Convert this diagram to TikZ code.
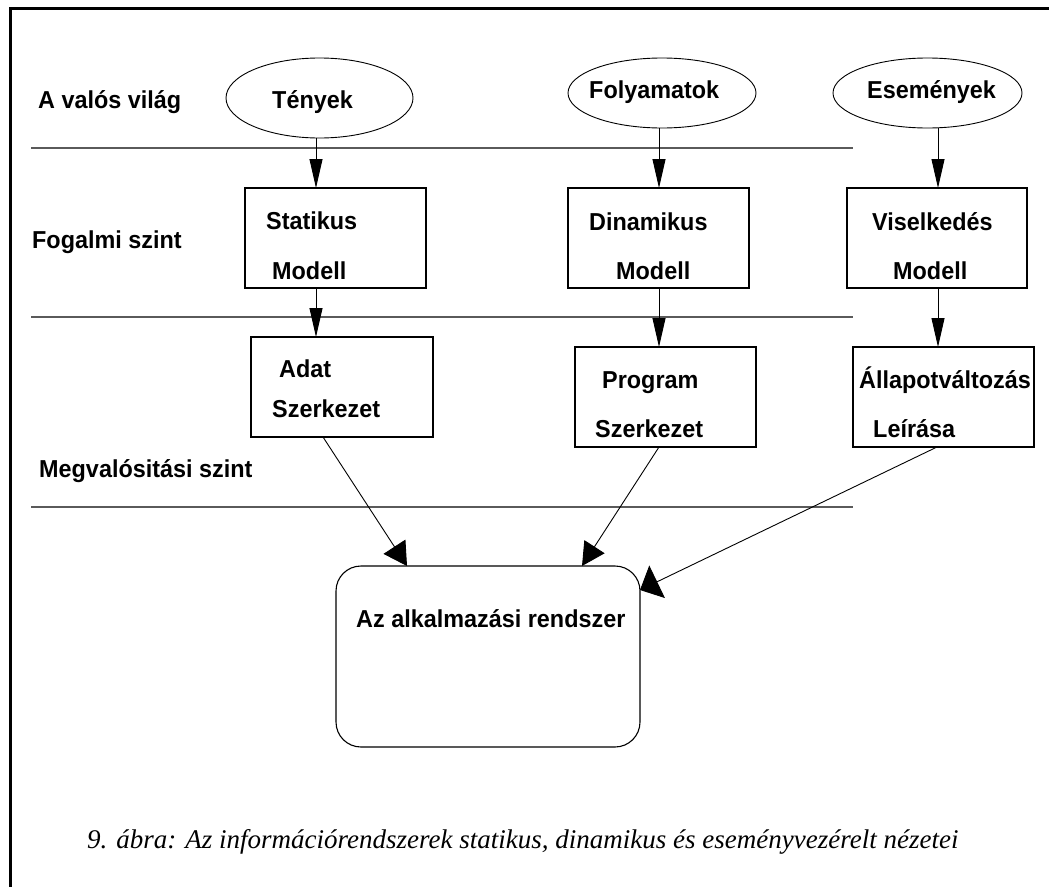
\documentclass[tikz,border=0pt]{standalone}
\usepackage{fontspec}
\setmainfont{Liberation Serif}
\newfontfamily\labelfont{Liberation Sans}[FakeStretch=0.955]
\usetikzlibrary{arrows.meta,shapes.geometric}
\definecolor{sepgray}{RGB}{90,90,90}

\begin{document}
\begin{tikzpicture}[x=1pt,y=-1pt,
  lbl/.style={anchor=base west,inner sep=0pt,font=\labelfont\bfseries\fontsize{24.5}{28}\selectfont},
  oval/.style={draw,ellipse,line width=0.9pt,inner sep=0pt,outer sep=0pt},
  box/.style={draw,rectangle,line width=1.1pt,inner sep=0pt,outer sep=0pt},
  sep/.style={draw=sepgray,line width=1.4pt},
  flow/.style={draw,line width=0.9pt,-{Triangle[length=29pt,width=13pt]}},
  slant/.style 2 args={draw,line width=0.9pt,-{Triangle[length=#1,width=#2]}},
]
\useasboundingbox (0,0) rectangle (1049,886);

% outer frame
\draw[line width=3pt] (10,900) -- (10,8) -- (1070,8);

% level separators
\draw[sep] (31,148) -- (853,148);
\draw[sep] (31,317) -- (853,317);
\draw[sep] (31,507) -- (853,507);

% level names
\node[lbl] (lvl1) at (38,108) {A valós világ};
\node[lbl] (lvl2) at (32,248) {Fogalmi szint};
\node[lbl] (lvl3) at (39,477) {Megvalósitási szint};

% real world
\node[oval,minimum width=187pt,minimum height=80pt] (teny) at (319.5,98) {};
\node[oval,minimum width=188pt,minimum height=70pt] (foly) at (662,93) {};
\node[oval,minimum width=189pt,minimum height=70pt] (esem) at (927.5,93) {};
\node[lbl] (tteny) at (272,108) {Tények};
\node[lbl] (tfoly) at (589,98) {Folyamatok};
\node[lbl] (tesem) at (867,98) {Események};

% conceptual models
\node[box,minimum width=181pt,minimum height=100pt] (stat) at (335.5,238) {};
\node[box,minimum width=181pt,minimum height=100pt] (dyn) at (658.5,238) {};
\node[box,minimum width=180pt,minimum height=100pt] (beh) at (937,238) {};
\node[lbl] (tstat1) at (266,229) {Statikus};
\node[lbl] (tstat2) at (272,279) {Modell};
\node[lbl] (tdyn1) at (589,230) {Dinamikus};
\node[lbl] (tdyn2) at (616,279) {Modell};
\node[lbl] (tbeh1) at (872,230) {Viselkedés};
\node[lbl] (tbeh2) at (893,279) {Modell};

% implementation
\node[box,minimum width=182pt,minimum height=100pt] (adat) at (342,387) {};
\node[box,minimum width=181pt,minimum height=100pt] (prog) at (665.5,397) {};
\node[box,minimum width=181pt,minimum height=100pt] (allap) at (943.5,397) {};
\node[lbl] (tadat1) at (279,377) {Adat};
\node[lbl] (tadat2) at (272,417) {Szerkezet};
\node[lbl] (tprog1) at (602,388) {Program};
\node[lbl] (tprog2) at (595,437) {Szerkezet};
\node[lbl] (tallap1) at (859,388) {Állapotváltozás};
\node[lbl] (tallap2) at (873,437) {Leírása};

% application system
\node[box,rounded corners=25pt,minimum width=304pt,minimum height=181pt] (app) at (488,656.5) {};
\node[lbl] (tapp) at (356,627) {Az alkalmazási rendszer};

% column positions of the vertical links
\coordinate (c1) at (316,0);
\coordinate (c2) at (659,0);
\coordinate (c3) at (938,0);

\draw[flow] (c1 |- teny.south) -- (c1 |- stat.north);
\draw[flow] (c2 |- foly.south) -- (c2 |- dyn.north);
\draw[flow] (c3 |- esem.south) -- (c3 |- beh.north);
\draw[flow] (c1 |- stat.south) -- (c1 |- adat.north);
\draw[flow] (c2 |- dyn.south) -- (c2 |- prog.north);
\draw[flow] (c3 |- beh.south) -- (c3 |- allap.north);

\draw[slant={23pt}{26pt}] ([xshift=-19pt]adat.south) -- ([xshift=-81pt]app.north);
\draw[slant={23pt}{24pt}] ([xshift=-6.5pt]prog.south) -- ([xshift=94pt]app.north);
\draw[slant={19pt}{36pt}] ([xshift=-6.5pt]allap.south) -- ([yshift=66.5pt]app.east);

% caption
\node[anchor=base west,inner sep=0pt,font=\itshape\fontsize{27}{32}\selectfont] (cap) at (87,848)
  {9. ábra: Az információrendszerek statikus, dinamikus és eseményvezérelt nézetei};
\end{tikzpicture}
\end{document}
